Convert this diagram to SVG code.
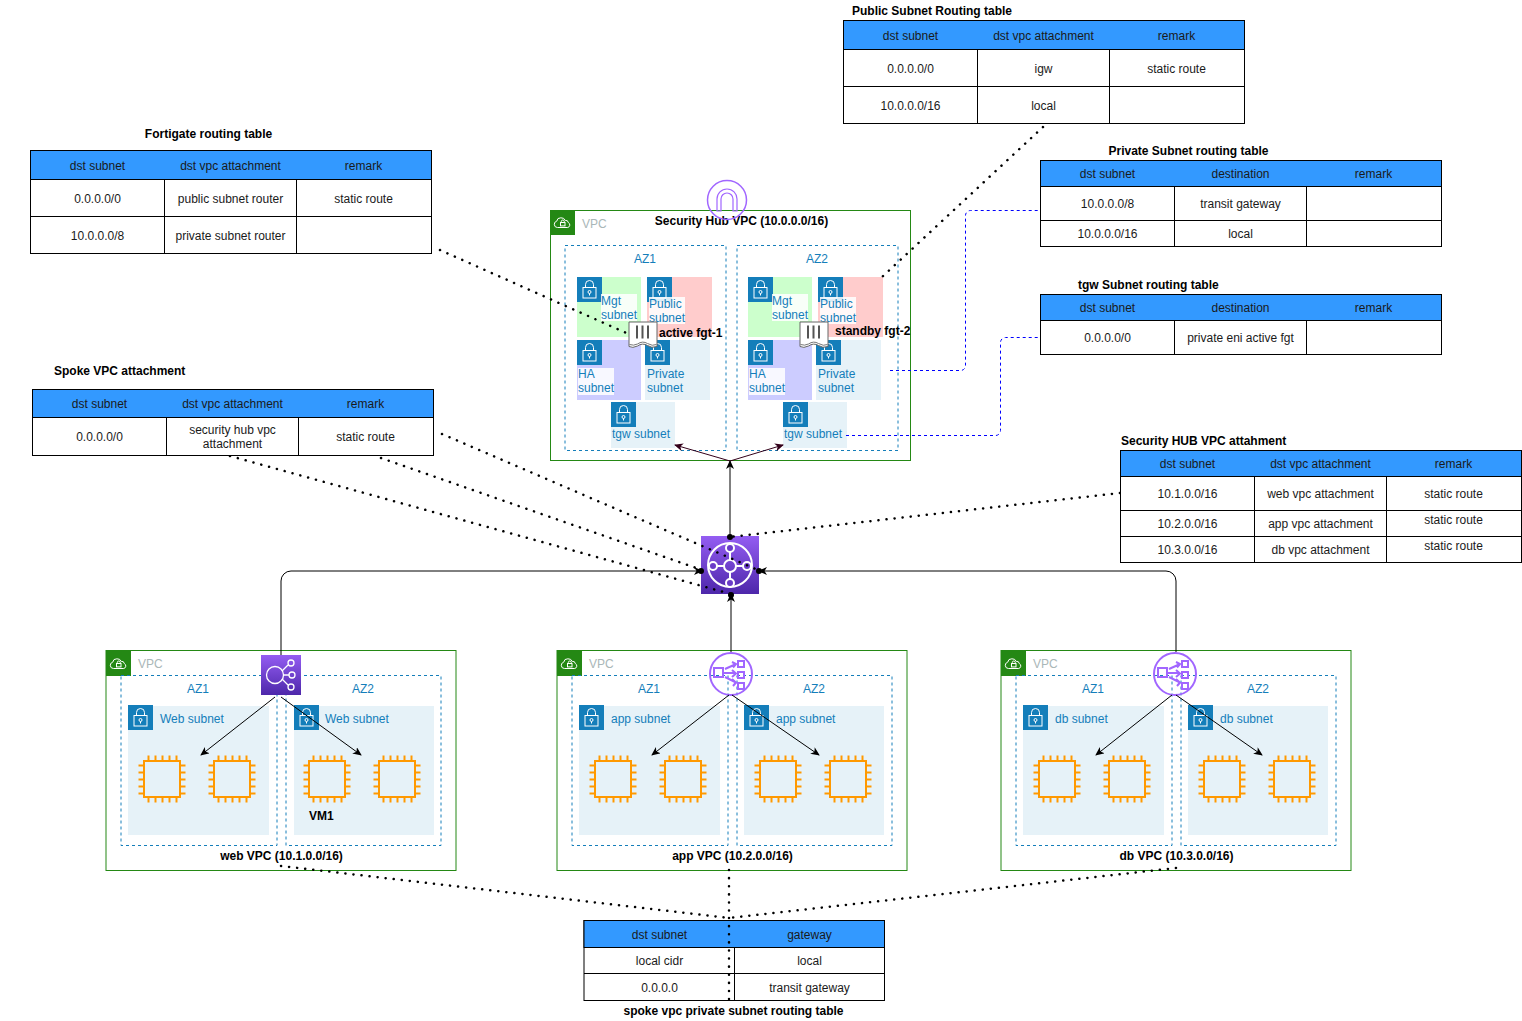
<svg xmlns="http://www.w3.org/2000/svg" width="1522" height="1021" viewBox="0 0 1522 1021">
<style>
text{font-family:"Liberation Sans",Arial,sans-serif;font-size:12px;fill:#1a1a1a}
.c{text-anchor:middle;transform:translateX(.5px)}
.b{font-weight:bold;fill:#000}
.az{fill:#147EBA;text-anchor:middle}
.sn{fill:#147EBA}
.vpcl{fill:#AAB7B8}
.h{fill:#3399FF;stroke:#000;stroke-width:1}
.tb{fill:#fff;stroke:#000;stroke-width:1}
.l{stroke:#000;stroke-width:1;fill:none}
.vpc{fill:#fff;stroke:#248814;stroke-width:1}
.az-box{fill:none;stroke:#147EBA;stroke-width:1;stroke-dasharray:3 3}
.dot{fill:none;stroke:#000;stroke-width:2.5;stroke-linecap:round;stroke-dasharray:0.1 8}
.ar{fill:none;stroke:#000;stroke-width:1}
.blue{fill:none;stroke:#0000FF;stroke-width:1;stroke-dasharray:3 3}
.plum{fill:none;stroke:#33001A;stroke-width:1}
.ic{fill:none;stroke:#fff;stroke-width:1}
</style>
<defs>
<marker id="arr" markerWidth="10" markerHeight="10" refX="8" refY="4" orient="auto" markerUnits="userSpaceOnUse"><path d="M0 0L9 4L0 8L2.500 4Z" fill="#000"/></marker>
<marker id="arrp" markerWidth="10" markerHeight="10" refX="8" refY="4" orient="auto" markerUnits="userSpaceOnUse"><path d="M0 0L9 4L0 8L2.500 4Z" fill="#33001A"/></marker>
<marker id="dt" markerWidth="8" markerHeight="8" refX="4" refY="4" markerUnits="userSpaceOnUse"><circle cx="4" cy="4" r="3" fill="#000"/></marker>
<linearGradient id="pg" x1="0" y1="1" x2="0" y2="0"><stop offset="0" stop-color="#4D27AA"/><stop offset="1" stop-color="#945DF2"/></linearGradient>
<symbol id="lock" width="25" height="25" viewBox="0 0 25 25" overflow="visible">
<rect width="25" height="25" fill="#147EBA"/>
<rect x="6" y="10.500" width="13" height="10.500" class="ic"/>
<path d="M8.500 10.500V7.500a4 4 0 0 1 8 0v3" class="ic"/>
<circle cx="12.500" cy="15" r="1.500" class="ic"/><path d="M12.500 16.500V18.500" class="ic"/>
</symbol>
<symbol id="cloud" width="25" height="25" viewBox="0 0 25 25" overflow="visible">
<rect width="25" height="25" fill="#248814"/>
<path d="M7.500 17.500a3.200 3.200 0 0 1-.8-6.300a4 4 0 0 1 4.200-3.400a4.500 4.500 0 0 1 4.400 2.600a2.600 2.600 0 0 1 3 2.200a2.600 2.600 0 0 1 -.6 4.900Z" class="ic"/>
<rect x="10.500" y="12.500" width="4.500" height="3.400" class="ic"/>
<path d="M11.300 12.500v-1a1.500 1.500 0 0 1 3 0v1" class="ic"/>
</symbol>
<symbol id="ec2" width="48" height="48" viewBox="0 0 48 48" overflow="visible">
<rect x="6" y="6" width="36" height="36" fill="none" stroke="#F90" stroke-width="2"/>
<path d="M10.500 0.500v5M17.500 0.500v5M24.500 0.500v5M31.500 0.500v5M38.500 0.500v5M10.500 42.500v5M17.500 42.500v5M24.500 42.500v5M31.500 42.500v5M38.500 42.500v5M0.500 10.500h5M0.500 17.500h5M0.500 24.500h5M0.500 31.500h5M0.500 38.500h5M42.500 10.500h5M42.500 17.500h5M42.500 24.500h5M42.500 31.500h5M42.500 38.500h5" fill="none" stroke="#F90" stroke-width="2"/>
</symbol>
<symbol id="nlb" width="44" height="44" viewBox="0 0 44 44" overflow="visible">
<circle cx="22" cy="22" r="21" fill="none" stroke="#A166FF" stroke-width="2"/>
<g fill="none" stroke="#A166FF" stroke-width="2">
<rect x="5" y="16" width="9" height="9"/><rect x="29" y="9" width="6" height="6"/><rect x="29" y="20" width="6" height="6"/><rect x="29" y="31" width="6" height="6"/>
<path d="M14 21H26M16 17L26 12.500M16 25L26 30M23 10L27 12L24 15.500M23 18L27 21.500L23 25M23 27L27 30.500L24 34"/>
</g>
</symbol>
<symbol id="fgt" width="29" height="28" viewBox="0 0 29 28" overflow="visible">
<path d="M.5 .5H28.500V25Q23 27 19 24Q14 21 9 24.500Q4 27 .5 25Z" fill="#fff" stroke="#666" stroke-width="1"/>
<path d="M8.500 4V17M14 4V17M19.500 4V17" stroke="#555" stroke-width="2" fill="none"/>
<path d="M1 23Q5 24.500 9 22.500Q14 19 19 22Q24 25 28 23" stroke="#777" fill="none"/>
</symbol>
</defs>

<g id="vpc-security">
<rect class="vpc" x="550.500" y="210.500" width="360" height="250"/>
<use href="#cloud" x="550" y="210"/>
<text class="vpcl" x="582" y="228">VPC</text>
<text class="b c" x="741" y="225">Security Hub VPC (10.0.0.0/16)</text>
<rect class="az-box" x="565" y="245.500" width="161" height="205"/>
<rect class="az-box" x="737" y="245.500" width="161" height="205"/>
<text class="az" x="645" y="263">AZ1</text>
<text class="az" x="817" y="263">AZ2</text>
</g>
<g id="endpoint"><circle cx="727" cy="200" r="19.500" fill="none" stroke="#A166FF" stroke-width="1.500"/>
<path d="M717 211V199a10 10 0 0 1 20 0V211H733V199a6 6 0 0 0-12 0V211Z" fill="none" stroke="#A166FF" stroke-width="1.200"/></g>

<g id="az1-mgt"><rect x="577" y="277" width="64" height="60" fill="#CCFFCC"/><use href="#lock" x="577" y="277"/><rect x="601" y="294" width="36" height="27" fill="#fff" fill-opacity=".85"/><text class="sn" x="601" y="305">Mgt</text><text class="sn" x="601" y="319">subnet</text></g>
<g id="az1-public"><rect x="647" y="277" width="65" height="60" fill="#FFCCCC"/><use href="#lock" x="647" y="277"/><rect x="649" y="297" width="36" height="27" fill="#fff" fill-opacity=".85"/><text class="sn" x="649" y="308">Public</text><text class="sn" x="649" y="322">subnet</text></g>
<g id="az1-ha"><rect x="577" y="340" width="64" height="60" fill="#CCCCFF"/><use href="#lock" x="577" y="340"/><rect x="578" y="368" width="36" height="27" fill="#fff" fill-opacity=".85"/><text class="sn" x="578" y="378">HA</text><text class="sn" x="578" y="392">subnet</text></g>
<g id="az1-private"><rect x="645" y="340" width="65" height="60" fill="#E6F2F8"/><use href="#lock" x="645" y="340"/><text class="sn" x="647" y="378">Private</text><text class="sn" x="647" y="392">subnet</text></g>
<g id="az1-tgw"><rect x="611" y="402" width="64" height="46" fill="#E6F2F8"/><use href="#lock" x="611" y="402"/><text class="sn" x="612" y="438">tgw subnet</text></g>

<g id="az2-mgt"><rect x="748" y="277" width="64" height="60" fill="#CCFFCC"/><use href="#lock" x="748" y="277"/><rect x="772" y="294" width="36" height="27" fill="#fff" fill-opacity=".85"/><text class="sn" x="772" y="305">Mgt</text><text class="sn" x="772" y="319">subnet</text></g>
<g id="az2-public"><rect x="818" y="277" width="65" height="60" fill="#FFCCCC"/><use href="#lock" x="818" y="277"/><rect x="820" y="297" width="36" height="27" fill="#fff" fill-opacity=".85"/><text class="sn" x="820" y="308">Public</text><text class="sn" x="820" y="322">subnet</text></g>
<g id="az2-ha"><rect x="748" y="340" width="64" height="60" fill="#CCCCFF"/><use href="#lock" x="748" y="340"/><rect x="749" y="368" width="36" height="27" fill="#fff" fill-opacity=".85"/><text class="sn" x="749" y="378">HA</text><text class="sn" x="749" y="392">subnet</text></g>
<g id="az2-private"><rect x="816" y="340" width="65" height="60" fill="#E6F2F8"/><use href="#lock" x="816" y="340"/><text class="sn" x="818" y="378">Private</text><text class="sn" x="818" y="392">subnet</text></g>
<g id="az2-tgw"><rect x="783" y="402" width="64" height="46" fill="#E6F2F8"/><use href="#lock" x="783" y="402"/><text class="sn" x="784" y="438">tgw subnet</text></g>

<g id="vpc-web">
<rect class="vpc" x="106" y="650.500" width="350" height="220"/><use href="#cloud" x="106" y="651"/>
<text class="vpcl" x="138" y="668">VPC</text>
<rect class="az-box" x="121" y="675.500" width="156" height="170"/><rect class="az-box" x="286" y="675.500" width="155" height="170"/>
<text class="az" x="198" y="693">AZ1</text><text class="az" x="363" y="693">AZ2</text>
<rect x="128" y="706" width="141" height="129" fill="#E6F2F8"/><rect x="294" y="706" width="140" height="129" fill="#E6F2F8"/>
<use href="#lock" x="128" y="705"/><use href="#lock" x="294" y="705"/>
<text class="sn" x="160" y="723">Web subnet</text><text class="sn" x="325" y="723">Web subnet</text>
<use href="#ec2" x="138" y="755"/><use href="#ec2" x="208" y="755"/><use href="#ec2" x="303" y="755"/><use href="#ec2" x="373" y="755"/>
<text class="b" x="309" y="820">VM1</text>
<text class="b c" x="281" y="860">web VPC (10.1.0.0/16)</text>
</g>
<g id="vpc-app">
<rect class="vpc" x="557" y="650.500" width="350" height="220"/><use href="#cloud" x="557" y="651"/>
<text class="vpcl" x="589" y="668">VPC</text>
<rect class="az-box" x="572" y="675.500" width="156" height="170"/><rect class="az-box" x="737" y="675.500" width="155" height="170"/>
<text class="az" x="649" y="693">AZ1</text><text class="az" x="814" y="693">AZ2</text>
<rect x="579" y="706" width="141" height="129" fill="#E6F2F8"/><rect x="744" y="706" width="140" height="129" fill="#E6F2F8"/>
<use href="#lock" x="579" y="705"/><use href="#lock" x="744" y="705"/>
<text class="sn" x="611" y="723">app subnet</text><text class="sn" x="776" y="723">app subnet</text>
<use href="#ec2" x="589" y="755"/><use href="#ec2" x="659" y="755"/><use href="#ec2" x="754" y="755"/><use href="#ec2" x="824" y="755"/>
<text class="b c" x="732" y="860">app VPC (10.2.0.0/16)</text>
</g>
<g id="vpc-db">
<rect class="vpc" x="1001" y="650.500" width="350" height="220"/><use href="#cloud" x="1001" y="651"/>
<text class="vpcl" x="1033" y="668">VPC</text>
<rect class="az-box" x="1016" y="675.500" width="156" height="170"/><rect class="az-box" x="1181" y="675.500" width="155" height="170"/>
<text class="az" x="1093" y="693">AZ1</text><text class="az" x="1258" y="693">AZ2</text>
<rect x="1023" y="706" width="141" height="129" fill="#E6F2F8"/><rect x="1188" y="706" width="140" height="129" fill="#E6F2F8"/>
<use href="#lock" x="1023" y="705"/><use href="#lock" x="1188" y="705"/>
<text class="sn" x="1055" y="723">db subnet</text><text class="sn" x="1220" y="723">db subnet</text>
<use href="#ec2" x="1033" y="755"/><use href="#ec2" x="1103" y="755"/><use href="#ec2" x="1198" y="755"/><use href="#ec2" x="1268" y="755"/>
<text class="b c" x="1176" y="860">db VPC (10.3.0.0/16)</text>
</g>

<g id="tgw-icon">
<rect x="701" y="536" width="58" height="58" fill="url(#pg)"/>
<g fill="none" stroke="#fff" stroke-width="2">
<circle cx="730" cy="565" r="22"/><circle cx="730" cy="566" r="6"/>
<circle cx="730" cy="548" r="4" fill="#6A3BC8"/><circle cx="730" cy="583" r="4" fill="#6A3BC8"/><circle cx="713" cy="566" r="4" fill="#6A3BC8"/><circle cx="747" cy="566" r="4" fill="#6A3BC8"/>
<path d="M717 566H724M736 566H743M730 552V560M730 572V579"/>
</g>
</g>
<g id="alb-web">
<rect x="261" y="655" width="40" height="40" fill="url(#pg)"/>
<g fill="none" stroke="#fff" stroke-width="1.300"><circle cx="275" cy="675" r="8.500"/><circle cx="291" cy="663" r="3"/><circle cx="292" cy="675" r="3"/><circle cx="291" cy="687" r="3"/><path d="M282 671L288 665M283.500 675H289M282 679L288 685"/></g>
</g>
<use id="nlb-app" href="#nlb" x="709" y="652"/>
<use id="nlb-db" href="#nlb" x="1153" y="652"/>

<g id="connectors">
<path class="dot" d="M440 250L642 340"/>
<path class="dot" d="M1043 127L882 277"/>
<path class="dot" d="M442 434L758 570"/>
<path class="dot" d="M381 458L702 570"/>
<path class="dot" d="M230 456L731 594"/>
<path class="dot" d="M1120 493L730 537"/>
<path class="dot" d="M281 866L729 918"/>
<path class="dot" d="M1176 868L729 918"/>
<path class="dot" d="M729 870V918"/>
<path class="ar" d="M730 537V461" marker-start="url(#dt)" marker-end="url(#arr)"/>
<path class="plum" d="M730 461L675 445" marker-end="url(#arrp)"/>
<path class="plum" d="M730 461L783 445" marker-end="url(#arrp)"/>
<path class="ar" d="M281 655V581a10 10 0 0 1 10-10H702" marker-end="url(#arr)"/>
<path class="ar" d="M1176 652V581a10 10 0 0 0-10-10H759" marker-end="url(#arr)"/>
<path class="ar" d="M731 652V594" marker-end="url(#arr)"/>
<circle cx="701" cy="571" r="3"/><circle cx="759" cy="571" r="3"/><circle cx="731" cy="595" r="3"/>
<path class="ar" d="M275 697L201 755" marker-end="url(#arr)"/>
<path class="ar" d="M281 697L361 755" marker-end="url(#arr)"/>
<path class="ar" d="M729 695L652 755" marker-end="url(#arr)"/>
<path class="ar" d="M732 695L819 755" marker-end="url(#arr)"/>
<path class="ar" d="M1172 695L1096 755" marker-end="url(#arr)"/>
<path class="ar" d="M1176 695L1262 755" marker-end="url(#arr)"/>
<path class="blue" d="M890 370.500H960a5 5 0 0 0 5.500-5V215.500a5 5 0 0 1 5-5H1040"/>
<path class="blue" d="M846 435.500H995a5 5 0 0 0 5.500-5V342.500a5 5 0 0 1 5-5H1040"/>
</g>

<g id="fgt-1"><use href="#fgt" x="628.500" y="321.500"/><text class="b" x="659" y="337">active fgt-1</text></g>
<g id="fgt-2"><use href="#fgt" x="799.500" y="321.500"/><text class="b" x="835" y="335">standby fgt-2</text></g>

<g id="table-fortigate">
<text class="b c" x="208" y="138">Fortigate routing table</text>
<rect class="tb" x="30.500" y="150.500" width="401" height="103"/><rect class="h" x="30.500" y="150.500" width="401" height="29"/>
<path class="l" d="M30.500 216.500H431.500M164.500 179.500V253.500M296.500 179.500V253.500"/>
<text class="c" x="97" y="170">dst subnet</text><text class="c" x="230" y="170">dst vpc attachment</text><text class="c" x="363" y="170">remark</text>
<text class="c" x="97" y="203">0.0.0.0/0</text><text class="c" x="230" y="203">public subnet router</text><text class="c" x="363" y="203">static route</text>
<text class="c" x="97" y="240">10.0.0.0/8</text><text class="c" x="230" y="240">private subnet router</text>
</g>
<g id="table-public">
<text class="b" x="852" y="15">Public Subnet Routing table</text>
<rect class="tb" x="843.500" y="20.500" width="401" height="103"/><rect class="h" x="843.500" y="20.500" width="401" height="29"/>
<path class="l" d="M843.500 86.500H1244.500M977.500 49.500V123.500M1109.500 49.500V123.500"/>
<text class="c" x="910" y="40">dst subnet</text><text class="c" x="1043" y="40">dst vpc attachment</text><text class="c" x="1176" y="40">remark</text>
<text class="c" x="910" y="73">0.0.0.0/0</text><text class="c" x="1043" y="73">igw</text><text class="c" x="1176" y="73">static route</text>
<text class="c" x="910" y="110">10.0.0.0/16</text><text class="c" x="1043" y="110">local</text>
</g>
<g id="table-private">
<text class="b c" x="1188" y="155">Private Subnet routing table</text>
<rect class="tb" x="1040.500" y="160.500" width="401" height="86"/><rect class="h" x="1040.500" y="160.500" width="401" height="26"/>
<path class="l" d="M1040.500 220.500H1441.500M1174.500 186.500V246.500M1306.500 186.500V246.500"/>
<text class="c" x="1107" y="178">dst subnet</text><text class="c" x="1240" y="178">destination</text><text class="c" x="1373" y="178">remark</text>
<text class="c" x="1107" y="208">10.0.0.0/8</text><text class="c" x="1240" y="208">transit gateway</text>
<text class="c" x="1107" y="238">10.0.0.0/16</text><text class="c" x="1240" y="238">local</text>
</g>
<g id="table-tgw">
<text class="b" x="1078" y="289">tgw Subnet routing table</text>
<rect class="tb" x="1040.500" y="294.500" width="401" height="60"/><rect class="h" x="1040.500" y="294.500" width="401" height="26"/>
<path class="l" d="M1174.500 320.500V354.500M1306.500 320.500V354.500"/>
<text class="c" x="1107" y="312">dst subnet</text><text class="c" x="1240" y="312">destination</text><text class="c" x="1373" y="312">remark</text>
<text class="c" x="1107" y="342">0.0.0.0/0</text><text class="c" x="1240" y="342">private eni active fgt</text>
</g>
<g id="table-spoke">
<text class="b" x="54" y="375">Spoke VPC attachment</text>
<rect class="tb" x="32.500" y="389.500" width="401" height="66"/><rect class="h" x="32.500" y="389.500" width="401" height="28"/>
<path class="l" d="M166.500 417.500V455.500M298.500 417.500V455.500"/>
<text class="c" x="99" y="408">dst subnet</text><text class="c" x="232" y="408">dst vpc attachment</text><text class="c" x="365" y="408">remark</text>
<text class="c" x="99" y="441">0.0.0.0/0</text><text class="c" x="232" y="434">security hub vpc</text><text class="c" x="232" y="448">attachment</text><text class="c" x="365" y="441">static route</text>
</g>
<g id="table-hub">
<text class="b" x="1121" y="445">Security HUB VPC attahment</text>
<rect class="tb" x="1120.500" y="450.500" width="401" height="112"/><rect class="h" x="1120.500" y="450.500" width="401" height="26"/>
<path class="l" d="M1120.500 510.500H1521.500M1120.500 536.500H1521.500M1254.500 476.500V562.500M1386.500 476.500V562.500"/>
<text class="c" x="1187" y="468">dst subnet</text><text class="c" x="1320" y="468">dst vpc attachment</text><text class="c" x="1453" y="468">remark</text>
<text class="c" x="1187" y="498">10.1.0.0/16</text><text class="c" x="1320" y="498">web vpc attachment</text><text class="c" x="1453" y="498">static route</text>
<text class="c" x="1187" y="528">10.2.0.0/16</text><text class="c" x="1320" y="528">app vpc attachment</text><text class="c" x="1453" y="524">static route</text>
<text class="c" x="1187" y="554">10.3.0.0/16</text><text class="c" x="1320" y="554">db vpc attachment</text><text class="c" x="1453" y="550">static route</text>
</g>
<g id="table-spoke-private">
<rect class="tb" x="584" y="920.500" width="300.500" height="80"/><rect class="h" x="584" y="920.500" width="300.500" height="27"/>
<path class="l" d="M584 973.500H884.500M734.500 947.500V1000.500"/>
<text class="c" x="659" y="939">dst subnet</text><text class="c" x="809" y="939">gateway</text>
<text class="c" x="659" y="965">local cidr</text><text class="c" x="809" y="965">local</text>
<text class="c" x="659" y="992">0.0.0.0</text><text class="c" x="809" y="992">transit gateway</text>
<text class="b c" x="733" y="1015">spoke vpc private subnet routing table</text>
</g>
<path class="dot" id="spoke-route-over" d="M729 918V1000"/>
</svg>
